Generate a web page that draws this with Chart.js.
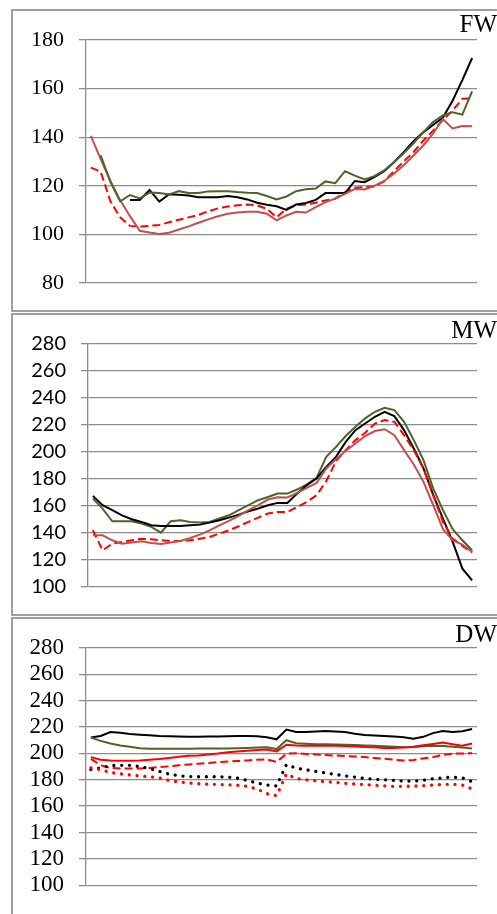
<!DOCTYPE html>
<html>
<head>
<meta charset="utf-8">
<script src="https://cdn.jsdelivr.net/npm/chart.js@4.4.1/dist/chart.umd.min.js"></script>
<style>
    body { margin: 0; background: #fff; width: 497px; height: 914px; overflow: hidden; position: relative; }
    .panel { position: absolute; left: 11px; width: 600px; border: 2px solid #a0a0a0; box-sizing: border-box; }
    canvas { position: absolute; left: 0; }
</style>
</head>
<body>
<div class="panel" style="top:9px;height:303px"></div>
<div class="panel" style="top:313px;height:303px"></div>
<div class="panel" style="top:617px;height:400px"></div>
<canvas id="chartFW" width="497" height="312" style="top:0px"></canvas>
<canvas id="chartMW" width="497" height="303" style="top:312px"></canvas>
<canvas id="chartDW" width="497" height="299" style="top:615px"></canvas>
<script>
// ------------------------------ les données (40 pas de temps) ------------------------------//
const slots = ['1', '2', '3', '4', '5', '6', '7', '8', '9', '10',
    '11', '12', '13', '14', '15', '16', '17', '18', '19', '20',
    '21', '22', '23', '24', '25', '26', '27', '28', '29', '30',
    '31', '32', '33', '34', '35', '36', '37', '38', '39', '40'];

const fwTicks = [80, 100, 120, 140, 160, 180];
const mwTicks = [100, 120, 140, 160, 180, 200, 220, 240, 260, 280];
const dwTicks = [100, 120, 140, 160, 180, 200, 220, 240, 260, 280];

// FW
const fwBlack = [null, null, null, null, 114.2, 114.2, 118.3, 113.5, 116.5, 116.3, 116, 115.3, 115.3, 115.3, 115.8, 115.3, 114.4, 113, 112.2, 111.6,
    110.1, 112.3, 112.9, 114.2, 117, 117, 117, 122, 121.5, 123.6, 126, 129.7, 133.8, 138.4, 142, 145, 148, 155, 163.5, 172.6];
const fwGreen = [null, 132.5, 121.5, 113.6, 116.2, 114.8, 117.2, 117, 116.4, 117.8, 117, 117, 117.7, 117.8, 117.8, 117.4, 117.1, 117, 115.8, 114.4,
    115.6, 117.8, 118.6, 118.9, 121.8, 121.1, 126, 124.2, 122.6, 124, 126.3, 129.7, 133.4, 137.5, 142, 146.2, 149, 150.3, 149.3, 158.9];
const fwBrown = [140.5, 131, 122, 114, 107.5, 101.5, 100.8, 100.2, 100.7, 102, 103.3, 104.8, 106.2, 107.5, 108.5, 109, 109.3, 109.3, 108.5, 105.8,
    107.8, 109.3, 109, 111.2, 113.3, 114.7, 116.7, 118.7, 118.5, 120, 122, 125, 128.4, 132.5, 136.6, 141.5, 147.5, 143.6, 144.6, 144.5];
const fwRedDash = [127.5, 125.8, 113.6, 107, 103.5, 103.2, 103.5, 103.9, 105, 106, 107, 108, 109.5, 110.7, 111.5, 112, 112.3, 112, 110.5, 107,
    110.5, 112, 112.3, 113, 114, 114.7, 117.4, 119.2, 119.5, 119.7, 121.8, 126, 130, 133.8, 138.6, 142.7, 147, 151, 155.8, 156];

// MW
const mwBlack = [167.5, 160.6, 156.9, 153.1, 150.2, 148.2, 145.7, 145.2, 145.2, 145.2, 145.7, 146.2, 147.7, 149.4, 151.4, 153.6, 156.1, 158.1, 160.6, 162.3,
    162.3, 169.2, 175.4, 180.3, 189, 196.4, 207.5, 216.2, 221.1, 226.1, 229.8, 226.6, 216.2, 202.6, 187.8, 168, 150.7, 133.4, 113.6, 104.9];
const mwGreen = [165.5, 158.1, 148.7, 148.7, 148.7, 147, 144.5, 140.3, 148.7, 149.4, 148.2, 147.7, 148.2, 150.7, 153.1, 156.9, 160.6, 164.3, 166.7, 169.2,
    169.2, 172.2, 176.1, 180.8, 196.4, 203.8, 211.8, 218.7, 224.9, 229.8, 232.8, 231, 222.4, 208.8, 194, 172.9, 156.9, 142.8, 134.6, 127.2];
const mwBrown = [138.3, 138.3, 134.6, 132.1, 132.9, 133.9, 132.6, 131.9, 132.9, 134.1, 136.3, 138.8, 142, 145.7, 149, 152.7, 156.9, 160.6, 164.8, 166.5,
    166.3, 169.7, 173.4, 177.1, 187.8, 194.7, 200.9, 206.3, 211.8, 215.5, 216.9, 212.5, 201.4, 190.7, 177.9, 160.6, 142.8, 134.6, 131.4, 126];
const mwRedDash = [142, 127.2, 132.1, 133.4, 134.6, 135.8, 135.3, 134.6, 134.1, 134.1, 134.6, 135.8, 137.1, 139.5, 142, 145, 148.2, 151.4, 154.4, 155.6,
    155.6, 159.3, 163, 168, 178.4, 193.2, 201.4, 208.8, 214.2, 221.1, 223.6, 222.4, 212.5, 201.4, 187.8, 168, 148.2, 135.8, 130.4, 125.5];

// DW
const dwBlack = [212, 213.2, 216.2, 215.7, 214.7, 214.2, 213.7, 213.2, 213, 212.8, 212.6, 212.6, 212.8, 212.8, 213, 213.2, 213.2, 213, 212.2, 210.7,
    218.1, 216.2, 216.2, 216.6, 217, 216.6, 216.2, 215, 214, 213.6, 213.2, 212.8, 212.2, 211.2, 212.6, 215.4, 217, 216.2, 216.8, 218.6];
const dwGreen = [212, 209.5, 207.5, 206, 205, 204, 203.5, 203.5, 203.5, 203.5, 203.6, 203.8, 203.8, 203.8, 203.8, 204, 204.2, 204.5, 204.6, 203.3,
    210, 207.7, 207.3, 207, 207, 206.8, 206.6, 206.3, 206, 205.8, 205.4, 205, 204.6, 204.8, 205.4, 205.8, 205.6, 205.1, 204.5, 203.8];
const dwRed = [197.2, 195.2, 194.7, 194.5, 194.5, 194.7, 195.2, 195.8, 196.6, 197.4, 198.2, 198.4, 199.1, 199.9, 200.8, 201.4, 202, 202.6, 203, 201.5,
    206.6, 206, 205.8, 205.8, 205.8, 205.8, 205.6, 205.2, 204.8, 204.6, 204.2, 204.1, 204.4, 205.1, 206.2, 207.2, 208.3, 207, 205.8, 207.5];
const dwRedDash = [195.9, 191, 189, 188.5, 188.5, 188.5, 189, 189.7, 190.2, 191, 191.6, 192.2, 192.8, 193.3, 193.8, 194.2, 194.7, 195.2, 195.5, 193.5,
    199.8, 200.1, 199.6, 199.2, 198.8, 198.4, 198, 197.7, 197.2, 196.6, 196, 195.2, 194.7, 195.1, 196.2, 197.2, 198.8, 199.8, 200, 200.1];
const dwBlackDot = [187.7, 189, 190.8, 191, 191, 190, 188.5, 186.3, 184.3, 183, 182.5, 182.3, 182.3, 182.3, 182, 181.2, 179.5, 177.5, 176, 175.3,
    191.5, 188.8, 187.5, 186.3, 185.2, 184, 183, 182, 181, 180.5, 180, 179.5, 179, 179, 179.6, 180.8, 181.5, 182, 181.5, 178.5];
const dwRedDot = [189, 187.7, 185.5, 184.5, 183.6, 183, 182.3, 181.5, 179.5, 178.3, 177.6, 177, 176.7, 176.5, 176.2, 175.8, 175, 173, 169.5, 168,
    184.5, 181, 180, 179.3, 178.6, 178, 177.3, 176.8, 176.3, 175.8, 175.4, 175, 175, 175.2, 175.5, 176, 176.5, 176.6, 176, 173];
//--------------------------------------------------------------------------------------------//

const BLACK = '#000000';
const GREEN = '#4F6228';
const BROWN = '#C0504D';
const RED = '#FF0000';
const GRID = '#8c8c8c';

// une courbe : 'solid', 'dash' ou 'dot'
function serie(data, color, style) {
    var ds = {
        data: data,
        borderColor: color,
        borderWidth: 2,
        pointRadius: 0,
        tension: 0,
        fill: false,
        spanGaps: false
    };
    if (style === 'dash') {
        ds.borderDash = [8, 4];
    }
    if (style === 'dot') {
        ds.borderDash = [0.01, 7.8];
        ds.borderCapStyle = 'round';
        ds.borderWidth = 3.3;
    }
    return ds;
}

// le nom du panneau en haut à droite (FW, MW, DW)
const panelTitle = {
    id: 'panelTitle',
    afterDraw(chart, args, opts) {
        const ctx = chart.ctx;
        ctx.save();
        ctx.font = '25px "Liberation Serif"';
        ctx.fillStyle = '#000';
        ctx.textAlign = 'right';
        ctx.textBaseline = 'alphabetic';
        ctx.fillText(opts.text, 497, opts.y);
        ctx.restore();
    }
};

function panel(id, datasets, ticks, font, axisWidth, padding, title) {
    const ctx = document.getElementById(id).getContext('2d');
    return new Chart(ctx, {
        type: 'line',
        data: { labels: slots, datasets: datasets },
        plugins: [panelTitle],
        options: {
            responsive: false,
            animation: false,
            devicePixelRatio: 1,
            layout: { padding: padding },
            plugins: {
                legend: { display: false },
                tooltip: { enabled: false },
                panelTitle: title
            },
            scales: {
                x: { display: false, offset: true },
                y: {
                    min: ticks[0],
                    max: ticks[ticks.length - 1],
                    afterBuildTicks: (scale) => { scale.ticks = ticks.map(v => ({ value: v })); },
                    afterFit: (scale) => { scale.width = axisWidth; },
                    grid: { color: GRID, lineWidth: 1.3, tickLength: 7, drawTicks: true },
                    border: { color: GRID, width: 1.3 },
                    ticks: { color: '#000', padding: 15, font: font, autoSkip: false }
                }
            }
        }
    });
}

panel('chartFW', [
    serie(fwGreen, GREEN, 'solid'),
    serie(fwBrown, BROWN, 'solid'),
    serie(fwBlack, BLACK, 'solid'),
    serie(fwRedDash, RED, 'dash')
], fwTicks, { family: '"Liberation Serif"', size: 22 }, 86,
    { top: 40, bottom: 29, left: 0, right: 20 }, { text: 'FW', y: 32 });

panel('chartMW', [
    serie(mwBrown, BROWN, 'solid'),
    serie(mwRedDash, RED, 'dash'),
    serie(mwBlack, BLACK, 'solid'),
    serie(mwGreen, GREEN, 'solid')
], mwTicks, { family: 'Lato', size: 20 }, 88,
    { top: 32, bottom: 28, left: 0, right: 20 }, { text: 'MW', y: 26 });

panel('chartDW', [
    serie(dwRedDot, RED, 'dot'),
    serie(dwBlackDot, BLACK, 'dot'),
    serie(dwRedDash, RED, 'dash'),
    serie(dwRed, RED, 'solid'),
    serie(dwGreen, GREEN, 'solid'),
    serie(dwBlack, BLACK, 'solid')
], dwTicks, { family: '"Liberation Serif"', size: 23 }, 86,
    { top: 33, bottom: 23, left: 0, right: 20 }, { text: 'DW', y: 27 });
</script>
</body>
</html>
